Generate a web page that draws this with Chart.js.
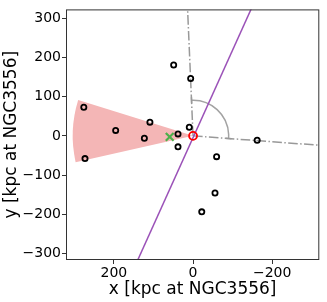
<!DOCTYPE html>
<html>
<head>
<meta charset="utf-8">
<script src="https://cdn.jsdelivr.net/npm/chart.js@4/dist/chart.umd.min.js"></script>
<style>
  body { margin: 0; background: #fff; }
</style>
</head>
<body>
<canvas id="satCanvas" width="327" height="302"></canvas>
<script>
// satellite positions around NGC3556 (kpc)
const satX = [276, 195.5, 123, 109, 49, 38, 38, 9.5, 6, -162, 273, -59.5, -55.5, -22];
const satY = [73, 14, -6, 35, 181, 5, -28, 22, 146.5, -11, -58, -53, -146, -194];

const hostX = [0];
const hostY = [0];

const centroidX = [59];
const centroidY = [-2.5];

// purple line
const planeX = [-149.5, 145.5];
const planeY = [330, -330];

// dash-dot axes of the host
const majorAxisX = [0, 14.5];
const majorAxisY = [0, 340];
const minorAxisX = [0, -340];
const minorAxisY = [0, -25.5];

// shaded cone: radius and edge angles (deg)
const coneRadius = 304;
const coneAngles = [-12.75, 17.5];

// angle marker between the axes
const markRadius = 90;
const markAngles = [87.6, 184.3];

const xTicks = [200, 0, -200];
const yTicks = [-300, -200, -100, 0, 100, 200, 300];

const toPts = (xs, ys) => xs.map((x, i) => ({ x: x, y: ys[i] }));
const fmt = v => v < 0 ? '\u2212' + Math.abs(v) : String(v);

// turn a data-space angle into a canvas angle using the scales
function pixAngle(chart, deg, r) {
    const sx = chart.scales.x, sy = chart.scales.y;
    const a = deg * Math.PI / 180;
    const cx = sx.getPixelForValue(0), cy = sy.getPixelForValue(0);
    const px = sx.getPixelForValue(r * Math.cos(a)), py = sy.getPixelForValue(r * Math.sin(a));
    return Math.atan2(py - cy, px - cx);
}

const shapes = {
    id: 'shapes',
    beforeDatasetsDraw(chart) {
        const ctx = chart.ctx, area = chart.chartArea;
        const sx = chart.scales.x, sy = chart.scales.y;
        const cx = sx.getPixelForValue(0), cy = sy.getPixelForValue(0);
        const r = Math.abs(sx.getPixelForValue(coneRadius) - cx);
        const a0 = pixAngle(chart, coneAngles[0], coneRadius);
        let a1 = pixAngle(chart, coneAngles[1], coneRadius);
        if (a1 < a0) a1 += Math.PI * 2;
        ctx.save();
        ctx.beginPath();
        ctx.rect(area.left, area.top, area.right - area.left, area.bottom - area.top);
        ctx.clip();
        ctx.beginPath();
        ctx.moveTo(cx, cy);
        ctx.arc(cx, cy, r, a0, a1, false);
        ctx.closePath();
        ctx.fillStyle = '#f4b6b6';
        ctx.fill();

        // angle marker
        const mr = Math.abs(sx.getPixelForValue(markRadius) - cx);
        const m0 = pixAngle(chart, markAngles[0], markRadius);
        let m1 = pixAngle(chart, markAngles[1], markRadius);
        if (m1 < m0) m1 += Math.PI * 2;
        ctx.beginPath();
        ctx.arc(cx, cy, mr, m0, m1, false);
        ctx.strokeStyle = '#a3a3a3';
        ctx.lineWidth = 1.5;
        ctx.stroke();
        // little end caps
        [m0, m1].forEach(a => {
            ctx.beginPath();
            ctx.moveTo(cx + (mr - 3) * Math.cos(a), cy + (mr - 3) * Math.sin(a));
            ctx.lineTo(cx + (mr + 3) * Math.cos(a), cy + (mr + 3) * Math.sin(a));
            ctx.stroke();
        });
        ctx.restore();
    },
    afterDraw(chart) {
        const ctx = chart.ctx, area = chart.chartArea;
        ctx.save();
        ctx.strokeStyle = '#333';
        ctx.lineWidth = 1;
        ctx.strokeRect(area.left + 0.5, area.top + 0.5, area.right - area.left - 1, area.bottom - area.top - 1);
        ctx.restore();
    }
};

const dashDot = [9.6, 2.4, 1.5, 2.4];

new Chart(document.getElementById('satCanvas'), {
    type: 'scatter',
    data: {
        datasets: [
            {
                data: toPts(hostX, hostY),
                pointStyle: 'circle', pointRadius: 4,
                borderColor: '#ff0000', backgroundColor: 'rgba(0,0,0,0)', borderWidth: 1.8
            },
            {
                data: toPts(satX, satY),
                pointStyle: 'circle', pointRadius: 2.6,
                borderColor: '#000', backgroundColor: 'rgba(0,0,0,0)', borderWidth: 1.8
            },
            {
                data: toPts(centroidX, centroidY),
                pointStyle: 'crossRot', pointRadius: 5.5,
                borderColor: '#4daf4a', borderWidth: 2.2
            },
            {
                type: 'line', data: toPts(planeX, planeY),
                borderColor: '#9b52b8', borderWidth: 1.5, pointRadius: 0, fill: false
            },
            {
                type: 'line', data: toPts(majorAxisX, majorAxisY),
                borderColor: '#999', borderWidth: 1.5, borderDash: dashDot, pointRadius: 0, fill: false
            },
            {
                type: 'line', data: toPts(minorAxisX, minorAxisY),
                borderColor: '#999', borderWidth: 1.5, borderDash: dashDot, pointRadius: 0, fill: false
            }
        ]
    },
    options: {
        responsive: false,
        animation: false,
        layout: { padding: { left: 0, right: 5, top: 4, bottom: 0 } },
        plugins: {
            legend: { display: false },
            tooltip: { enabled: false }
        },
        scales: {
            x: {
                type: 'linear',
                reverse: true,
                min: -319,
                max: 321,
                afterBuildTicks: s => { s.ticks = xTicks.map(v => ({ value: v })); },
                afterFit: s => { s.height = 42; },
                ticks: {
                    callback: fmt, color: '#000', padding: 1, maxRotation: 0,
                    font: { family: 'DejaVu Sans', size: 14 }
                },
                grid: { drawOnChartArea: false, drawTicks: true, tickLength: 4, color: '#333' },
                border: { display: false },
                title: {
                    display: true, text: 'x [kpc at NGC3556]', color: '#000',
                    padding: { top: 0, bottom: 2 },
                    font: { family: 'DejaVu Sans', size: 17 }
                }
            },
            y: {
                type: 'linear',
                min: -317,
                max: 323,
                afterBuildTicks: s => { s.ticks = yTicks.map(v => ({ value: v })); },
                afterFit: s => { s.width = 66; },
                ticks: {
                    callback: fmt, color: '#000', padding: 1,
                    font: { family: 'DejaVu Sans', size: 14 }
                },
                grid: { drawOnChartArea: false, drawTicks: true, tickLength: 4, color: '#333' },
                border: { display: false },
                title: {
                    display: true, text: 'y [kpc at NGC3556]', color: '#000',
                    padding: { top: 1, bottom: 0 },
                    font: { family: 'DejaVu Sans', size: 17 }
                }
            }
        }
    },
    plugins: [shapes]
});
</script>
</body>
</html>
